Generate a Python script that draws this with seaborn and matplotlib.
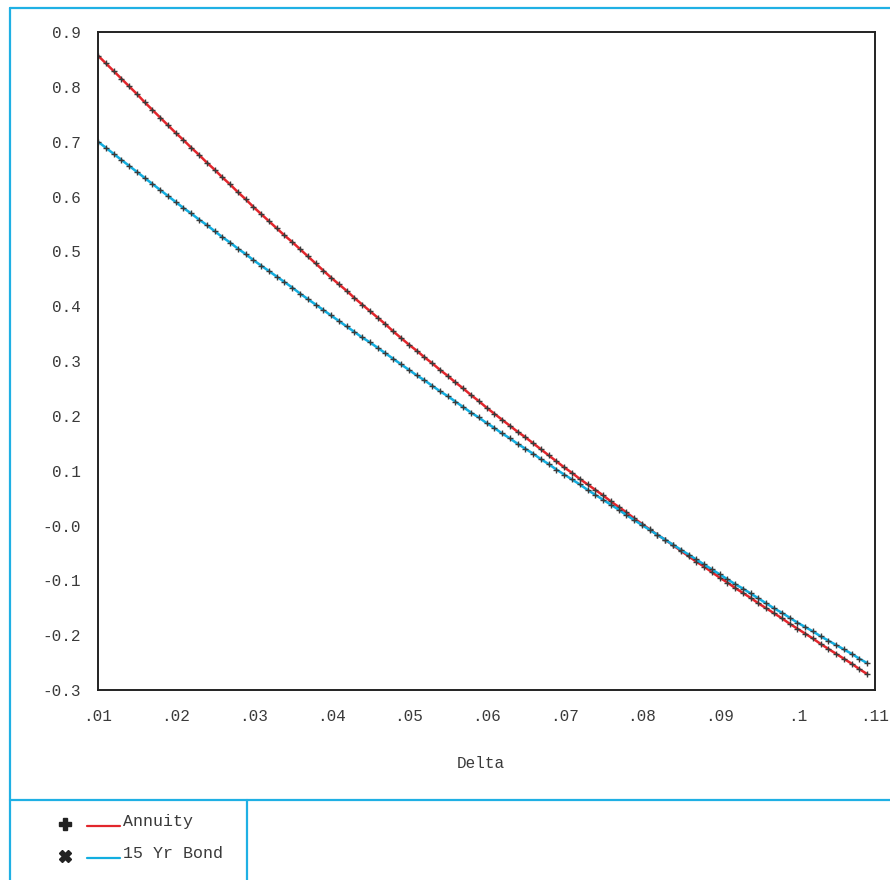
import matplotlib
matplotlib.use("Agg")
import matplotlib.pyplot as plt
from matplotlib.lines import Line2D
import seaborn as sns

# %% data
delta = [
    0.010, 0.011, 0.012, 0.013, 0.014, 0.015, 0.016, 0.017, 0.018, 0.019,
    0.020, 0.021, 0.022, 0.023, 0.024, 0.025, 0.026, 0.027, 0.028, 0.029,
    0.030, 0.031, 0.032, 0.033, 0.034, 0.035, 0.036, 0.037, 0.038, 0.039,
    0.040, 0.041, 0.042, 0.043, 0.044, 0.045, 0.046, 0.047, 0.048, 0.049,
    0.050, 0.051, 0.052, 0.053, 0.054, 0.055, 0.056, 0.057, 0.058, 0.059,
    0.060, 0.061, 0.062, 0.063, 0.064, 0.065, 0.066, 0.067, 0.068, 0.069,
    0.070, 0.071, 0.072, 0.073, 0.074, 0.075, 0.076, 0.077, 0.078, 0.079,
    0.080, 0.081, 0.082, 0.083, 0.084, 0.085, 0.086, 0.087, 0.088, 0.089,
    0.090, 0.091, 0.092, 0.093, 0.094, 0.095, 0.096, 0.097, 0.098, 0.099,
    0.100, 0.101, 0.102, 0.103, 0.104, 0.105, 0.106, 0.107, 0.108, 0.109,
]

annuity = [
    0.857, 0.843, 0.829, 0.815, 0.801, 0.787, 0.772, 0.758, 0.744, 0.730,
    0.716, 0.703, 0.689, 0.676, 0.662, 0.649, 0.635, 0.622, 0.608, 0.595,
    0.581, 0.568, 0.555, 0.542, 0.529, 0.517, 0.504, 0.491, 0.478, 0.465,
    0.452, 0.440, 0.428, 0.415, 0.403, 0.391, 0.379, 0.367, 0.354, 0.342,
    0.330, 0.319, 0.307, 0.296, 0.284, 0.273, 0.261, 0.250, 0.238, 0.227,
    0.215, 0.204, 0.193, 0.182, 0.171, 0.161, 0.150, 0.139, 0.128, 0.117,
    0.106, 0.096, 0.085, 0.075, 0.065, 0.055, 0.044, 0.034, 0.024, 0.013,
    0.003, -0.007, -0.017, -0.026, -0.036, -0.046, -0.056, -0.066, -0.075, -0.085,
    -0.095, -0.104, -0.114, -0.123, -0.132, -0.142, -0.151, -0.160, -0.169, -0.179,
    -0.188, -0.197, -0.206, -0.216, -0.225, -0.234, -0.243, -0.252, -0.262, -0.271,
]

bond_15yr = [
    0.700, 0.689, 0.678, 0.667, 0.656, 0.645, 0.634, 0.623, 0.612, 0.601,
    0.590, 0.579, 0.569, 0.558, 0.548, 0.537, 0.526, 0.516, 0.505, 0.495,
    0.484, 0.474, 0.464, 0.454, 0.444, 0.434, 0.423, 0.413, 0.403, 0.393,
    0.383, 0.373, 0.363, 0.353, 0.343, 0.334, 0.324, 0.314, 0.304, 0.294,
    0.284, 0.274, 0.265, 0.255, 0.245, 0.236, 0.226, 0.216, 0.206, 0.197,
    0.187, 0.178, 0.168, 0.159, 0.149, 0.140, 0.131, 0.121, 0.112, 0.102,
    0.093, 0.084, 0.075, 0.065, 0.056, 0.047, 0.038, 0.029, 0.019, 0.010,
    0.001, -0.008, -0.017, -0.026, -0.035, -0.044, -0.053, -0.062, -0.071, -0.080,
    -0.089, -0.098, -0.107, -0.115, -0.124, -0.133, -0.142, -0.151, -0.159, -0.168,
    -0.177, -0.185, -0.193, -0.202, -0.210, -0.218, -0.226, -0.234, -0.243, -0.251,
]

x_ticks = [0.01, 0.02, 0.03, 0.04, 0.05, 0.06, 0.07, 0.08, 0.09, 0.10, 0.11]
x_tick_labels = [".01", ".02", ".03", ".04", ".05", ".06", ".07", ".08", ".09", ".1", ".11"]
y_ticks = [0.9, 0.8, 0.7, 0.6, 0.5, 0.4, 0.3, 0.2, 0.1, 0.0, -0.1, -0.2, -0.3]
y_tick_labels = ["0.9", "0.8", "0.7", "0.6", "0.5", "0.4", "0.3", "0.2", "0.1",
                 "-0.0", "-0.1", "-0.2", "-0.3"]

series_names = ["Annuity", "15 Yr Bond"]

# %% style
sns.set_style("white")
plt.rcParams["font.family"] = ["Liberation Mono", "DejaVu Sans Mono"]

RED = "#e2262c"
BLUE = "#12aee0"
FRAME = "#1fb0e4"
MARK = "#3a3a3a"
W, H = 890, 880

fig = plt.figure(figsize=(8.9, 8.8), dpi=100)
ax = fig.add_axes([98 / W, 1 - 690 / H, (875 - 98) / W, (690 - 32) / H])

# %% lines
sns.lineplot(x=delta, y=annuity, ax=ax, color=RED, linewidth=1.8,
             marker="+", markersize=4.5, markeredgewidth=1.0,
             markeredgecolor=MARK, legend=False)
sns.lineplot(x=delta, y=bond_15yr, ax=ax, color=BLUE, linewidth=1.8,
             marker="+", markersize=4.5, markeredgewidth=1.0,
             markeredgecolor=MARK, legend=False)

ax.set_xlim(0.01, 0.11)
ax.set_ylim(-0.3, 0.9)
ax.set_xticks(x_ticks)
ax.set_xticklabels(x_tick_labels)
ax.set_yticks(y_ticks)
ax.set_yticklabels(y_tick_labels)
ax.tick_params(axis="both", direction="out", length=9, width=1.3,
               color="#222222", labelcolor="#3a3a3a", labelsize=11.5)
ax.tick_params(axis="y", pad=3)
ax.tick_params(axis="x", pad=5)
for side in ["left", "right", "top", "bottom"]:
    ax.spines[side].set_visible(True)
    ax.spines[side].set_color("#222222")
    ax.spines[side].set_linewidth(1.4)
ax.set_xlabel("")
ax.set_ylabel("")

fig.text(481 / W, 1 - 763 / H, "Delta", ha="center", va="center",
         fontsize=11.5, color="#3a3a3a")

# %% frame lines
frame_lines = [
    ([10 / W, 1.0], [1 - 8 / H, 1 - 8 / H]),
    ([10 / W, 10 / W], [1 - 8 / H, 0.0]),
    ([10 / W, 1.0], [1 - 800 / H, 1 - 800 / H]),
    ([247 / W, 247 / W], [1 - 800 / H, 0.0]),
]
for xs, ys in frame_lines:
    fig.add_artist(Line2D(xs, ys, color=FRAME, linewidth=1.6,
                          transform=fig.transFigure))

# %% legend
legend_rows = [(series_names[0], RED, "P", 824), (series_names[1], BLUE, "X", 856)]
for name, col, mk, yy in legend_rows:
    fig.add_artist(Line2D([65 / W], [1 - yy / H], marker=mk, markersize=9,
                          color="#222222", linestyle="none",
                          transform=fig.transFigure))
    fig.add_artist(Line2D([87 / W, 120 / W], [1 - (yy + 2) / H, 1 - (yy + 2) / H],
                          color=col, linewidth=1.6, transform=fig.transFigure))
    fig.text(123 / W, 1 - (yy - 3) / H, name, ha="left", va="center",
             fontsize=12, color="#3a3a3a")

fig.savefig("out.png", dpi=100)
